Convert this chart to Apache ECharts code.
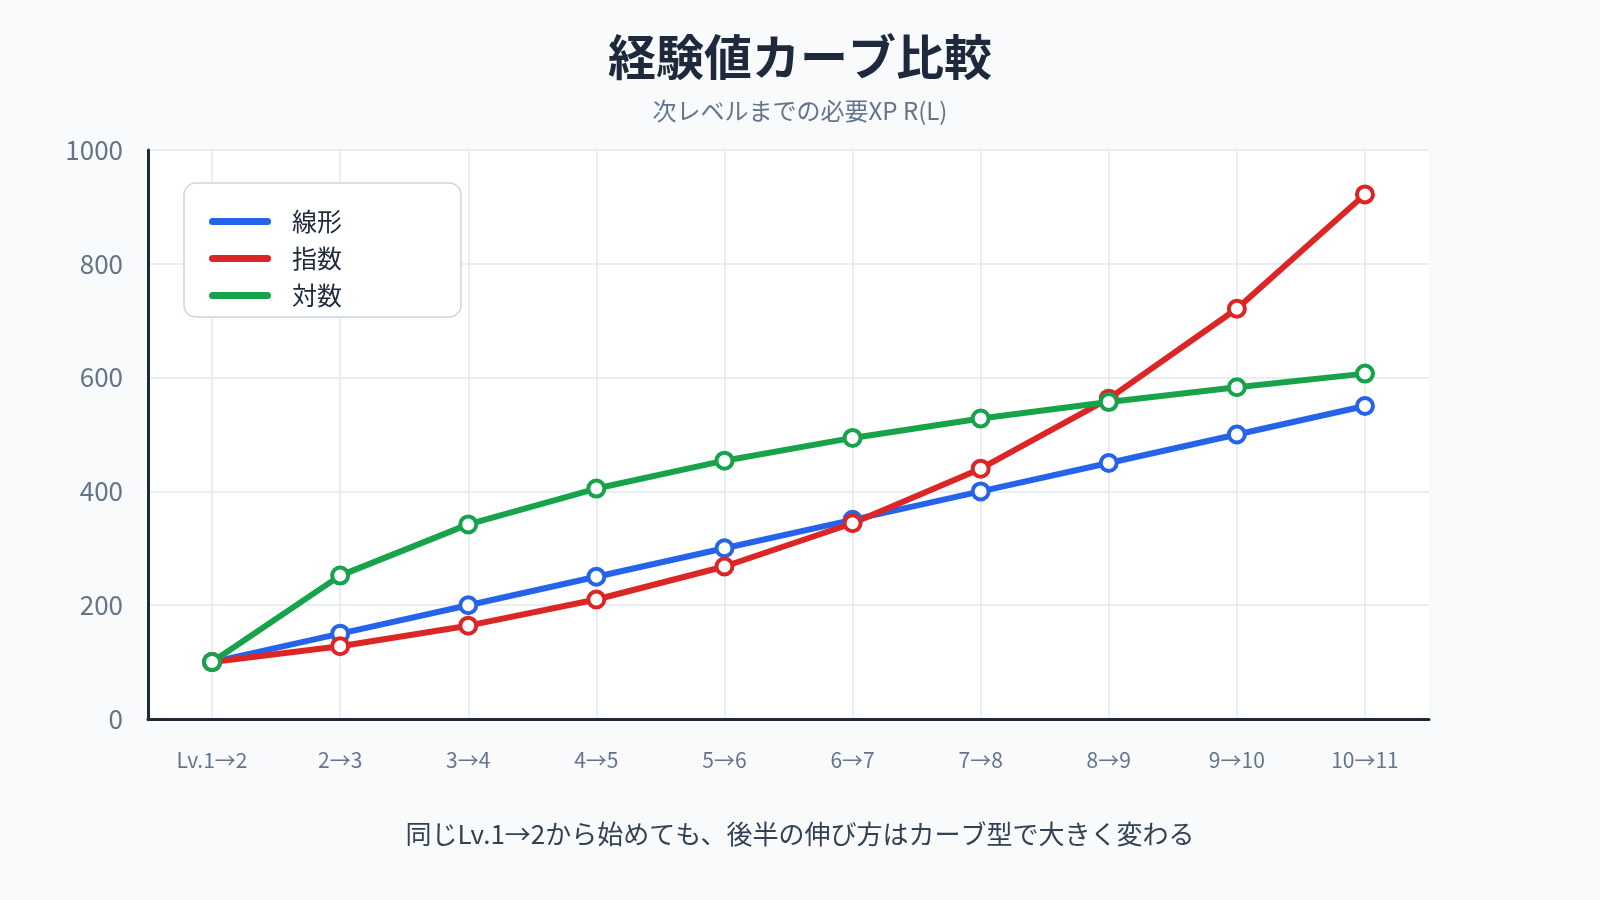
<!DOCTYPE html>
<html>
<head>
<meta charset="utf-8">
<script src="https://cdn.jsdelivr.net/npm/echarts@6/dist/echarts.min.js"></script>
<style>
  html, body { margin: 0; padding: 0; background: #f8fafc; }
  #chart { width: 1600px; height: 900px; }
</style>
</head>
<body>
<div id="chart"></div>
<script>
// データ
const categories = ['Lv.1→2', '2→3', '3→4', '4→5', '5→6', '6→7', '7→8', '8→9', '9→10', '10→11']
const linearXP = [100, 150, 200, 250, 300, 350, 400, 450, 500, 550]
const expXP = [100, 128, 164, 210, 268, 344, 440, 563, 721, 922]
const logXP = [100, 252, 342, 405, 454, 494, 528, 557, 583, 607]
const seriesNames = ['線形', '指数', '対数']
const seriesColors = ['#2563eb', '#dc2626', '#16a34a']

const FONT = '"Noto Sans CJK JP", "Noto Sans", sans-serif'
// 凡例アイコン（角丸の線）
const CAPSULE = 'path://M3.5,0 L58.5,0 A3.5,3.5 0 0 1 58.5,7 L3.5,7 A3.5,3.5 0 0 1 3.5,0 Z'

const chart = echarts.init(document.getElementById('chart'))

const makeSeries = (name, data, color) => ({
  name,
  type: 'line',
  data,
  smooth: false,
  symbol: 'circle',
  symbolSize: 16,
  lineStyle: { width: 6, color },
  itemStyle: { color: '#ffffff', borderColor: color, borderWidth: 4 },
  emphasis: { disabled: true },
})

chart.setOption({
  backgroundColor: '#f8fafc',
  animation: false,
  textStyle: { fontFamily: FONT },
  title: [
    {
      text: '経験値カーブ比較',
      left: 'center',
      top: 28,
      textStyle: { fontSize: 48, fontWeight: 'bold', color: '#1e293b', fontFamily: FONT },
    },
    {
      text: '次レベルまでの必要XP R(L)',
      left: 'center',
      top: 94,
      textStyle: { fontSize: 24, fontWeight: 'normal', color: '#64748b', fontFamily: FONT },
    },
    {
      text: '同じLv.1→2から始めても、後半の伸び方はカーブ型で大きく変わる',
      left: 'center',
      top: 816,
      textStyle: { fontSize: 26, fontWeight: 'normal', color: '#334155', fontFamily: FONT },
    },
  ],
  legend: {
    data: seriesNames.map((name, i) => ({
      name,
      icon: CAPSULE,
      itemStyle: { color: seriesColors[i], borderWidth: 0 },
    })),
    orient: 'vertical',
    left: 184,
    top: 183,
    padding: [26, 119, 9, 25],
    itemGap: 12,
    itemWidth: 62,
    itemHeight: 7,
    backgroundColor: '#ffffff',
    borderColor: '#cbd5e1',
    borderWidth: 1.5,
    borderRadius: 12,
    textStyle: { fontSize: 25, color: '#1e293b', lineHeight: 24, padding: [0, 0, 0, 16], fontFamily: FONT },
  },
  grid: {
    left: 148,
    right: 171,
    top: 150,
    bottom: 181,
    show: true,
    backgroundColor: '#ffffff',
    borderWidth: 0,
  },
  xAxis: {
    type: 'category',
    data: categories,
    boundaryGap: true,
    axisLine: { lineStyle: { color: '#1e293b', width: 3 } },
    axisTick: { show: false, alignWithLabel: true },
    axisLabel: { fontSize: 21, color: '#64748b', margin: 31 },
    splitLine: { show: true, alignWithLabel: true, lineStyle: { color: '#e2e8f0', width: 1.5 } },
  },
  yAxis: {
    type: 'value',
    min: 0,
    max: 1000,
    interval: 200,
    axisLine: { show: true, lineStyle: { color: '#1e293b', width: 3 } },
    axisTick: { show: false },
    axisLabel: { fontSize: 26, color: '#64748b', margin: 25, formatter: (v) => String(v) },
    splitLine: { show: true, lineStyle: { color: '#e2e8f0', width: 1.5 } },
  },
  series: [
    makeSeries(seriesNames[0], linearXP, seriesColors[0]),
    makeSeries(seriesNames[1], expXP, seriesColors[1]),
    makeSeries(seriesNames[2], logXP, seriesColors[2]),
  ],
})

window.addEventListener('resize', () => {
  chart.resize()
})
</script>
</body>
</html>
